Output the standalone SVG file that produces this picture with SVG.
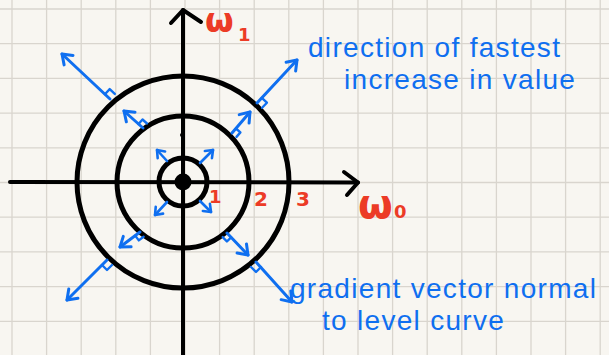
<svg xmlns="http://www.w3.org/2000/svg" width="609" height="355" viewBox="0 0 609 355">
<style>
.grid line{stroke:#d9d5ce;stroke-width:1.3}
.axis{stroke:#000;stroke-width:4;fill:none;stroke-linecap:round;stroke-linejoin:round}
.level{stroke:#000;stroke-width:5;fill:none}
.vec{stroke:#0f6ff0;stroke-width:3;fill:none;stroke-linecap:round}
.vecS{stroke:#0f6ff0;stroke-width:2.6;fill:none;stroke-linecap:round}
.mark{stroke:#0f6ff0;stroke-width:2.4;fill:none;stroke-linejoin:round;stroke-linecap:round}
.note{font-family:"Liberation Sans",Arial,sans-serif;fill:#0f6ff0;font-size:28px;letter-spacing:1.3px}
.red{font-family:"DejaVu Sans","Liberation Sans",sans-serif;fill:#ec3b26;font-weight:bold}
</style>
<defs>
<marker id="head" viewBox="-10 -8 12 16" refX="0" refY="0" markerWidth="12" markerHeight="16" markerUnits="userSpaceOnUse" orient="auto" overflow="visible">
<path d="M-9,-6.5 L0,0 L-9,6.5" fill="none" stroke="#0f6ff0" stroke-width="3" stroke-linecap="round" stroke-linejoin="round"/>
</marker>
<marker id="headS" viewBox="-8 -6 10 12" refX="0" refY="0" markerWidth="10" markerHeight="12" markerUnits="userSpaceOnUse" orient="auto" overflow="visible">
<path d="M-6.5,-5 L0,0 L-6.5,5" fill="none" stroke="#0f6ff0" stroke-width="2.6" stroke-linecap="round" stroke-linejoin="round"/>
</marker>
</defs>
<rect width="609" height="355" fill="#f8f6f1"/>
<g class="grid">
<line x1="12" y1="0" x2="12" y2="355"/><line x1="46.6" y1="0" x2="46.6" y2="355"/><line x1="81.2" y1="0" x2="81.2" y2="355"/><line x1="115.8" y1="0" x2="115.8" y2="355"/><line x1="150.4" y1="0" x2="150.4" y2="355"/><line x1="185" y1="0" x2="185" y2="355"/><line x1="219.6" y1="0" x2="219.6" y2="355"/><line x1="254.2" y1="0" x2="254.2" y2="355"/><line x1="288.8" y1="0" x2="288.8" y2="355"/><line x1="323.4" y1="0" x2="323.4" y2="355"/><line x1="358" y1="0" x2="358" y2="355"/><line x1="392.6" y1="0" x2="392.6" y2="355"/><line x1="427.2" y1="0" x2="427.2" y2="355"/><line x1="461.8" y1="0" x2="461.8" y2="355"/><line x1="496.4" y1="0" x2="496.4" y2="355"/><line x1="531" y1="0" x2="531" y2="355"/><line x1="565.6" y1="0" x2="565.6" y2="355"/><line x1="600.2" y1="0" x2="600.2" y2="355"/>
<line x1="0" y1="9" x2="609" y2="9"/><line x1="0" y1="43.7" x2="609" y2="43.7"/><line x1="0" y1="78.4" x2="609" y2="78.4"/><line x1="0" y1="113.1" x2="609" y2="113.1"/><line x1="0" y1="147.8" x2="609" y2="147.8"/><line x1="0" y1="182.5" x2="609" y2="182.5"/><line x1="0" y1="217.2" x2="609" y2="217.2"/><line x1="0" y1="251.9" x2="609" y2="251.9"/><line x1="0" y1="286.6" x2="609" y2="286.6"/><line x1="0" y1="321.3" x2="609" y2="321.3"/>
</g>
<g id="axes">
<line class="axis" x1="183" y1="10" x2="183" y2="355"/>
<polyline class="axis" points="171,23 183,10 201,22"/>
<line class="axis" x1="10" y1="182" x2="358" y2="182.5"/>
<polyline class="axis" points="344,172 358,182.5 347,195"/>
<circle cx="182" cy="135" r="2" fill="#000"/>
</g>
<g id="level-curves">
<circle id="curve-3" class="level" cx="183" cy="182" r="106"/>
<circle id="curve-2" class="level" cx="183" cy="182" r="66"/>
<circle id="curve-1" class="level" cx="183" cy="182" r="24"/>
<circle id="minimum" cx="183" cy="182" r="8.5" fill="#000"/>
</g>
<g id="connectors">
<line class="vec" x1="110" y1="99" x2="62" y2="54" marker-end="url(#head)"/>
<polyline class="mark" points="114.8,93.9 109.7,89.1 104.9,94.2"/>
<line class="vec" x1="143" y1="128" x2="124" y2="111" marker-end="url(#head)"/>
<polyline class="mark" points="147,123.5 142.5,119.5 138.5,124"/>
<line class="vec" x1="257" y1="103" x2="297" y2="60" marker-end="url(#head)"/>
<polyline class="mark" points="262.1,107.8 266.9,102.7 261.8,97.9"/>
<line class="vec" x1="232" y1="133" x2="250" y2="112" marker-end="url(#head)"/>
<polyline class="mark" points="236.5,136.9 240.4,132.4 235.9,128.5"/>
<line class="vec" x1="140" y1="232" x2="120" y2="247" marker-end="url(#head)"/>
<polyline class="mark" points="143.6,236.8 138.8,240.4 135.2,235.6"/>
<line class="vec" x1="107" y1="260" x2="67" y2="300" marker-end="url(#head)"/>
<polyline class="mark" points="112,265 107,270 102,265"/>
<line class="vec" x1="227" y1="233" x2="248" y2="255" marker-end="url(#head)"/>
<polyline class="mark" points="222.7,237.1 226.9,241.5 231.1,237.3"/>
<line class="vec" x1="256" y1="262" x2="292" y2="302" marker-end="url(#head)"/>
<polyline class="mark" points="251,267 256,272 261,267"/>
<line class="vecS" x1="167" y1="161" x2="157" y2="150" marker-end="url(#headS)"/>
<line class="vecS" x1="200" y1="163" x2="213" y2="150" marker-end="url(#headS)"/>
<line class="vecS" x1="167" y1="202" x2="155" y2="215" marker-end="url(#headS)"/>
<line class="vecS" x1="200" y1="201" x2="211" y2="212" marker-end="url(#headS)"/>
</g>
<g id="labels">
<text class="red" x="205" y="32" font-size="33">ω</text>
<text class="red" x="238" y="41" font-size="18">1</text>
<text class="red" x="358" y="218" font-size="40">ω</text>
<text class="red" x="394" y="218" font-size="18">0</text>
<text class="red" x="209" y="203" font-size="18">1</text>
<text class="red" x="254" y="206" font-size="20">2</text>
<text class="red" x="296" y="206" font-size="20">3</text>
</g>
<g id="note-fastest">
<text class="note" x="308" y="57">direction of fastest</text>
<text class="note" x="344" y="89">increase in value</text>
</g>
<g id="note-gradient">
<text class="note" x="290" y="298">gradient vector normal</text>
<text class="note" x="322" y="330">to level curve</text>
</g>
</svg>
